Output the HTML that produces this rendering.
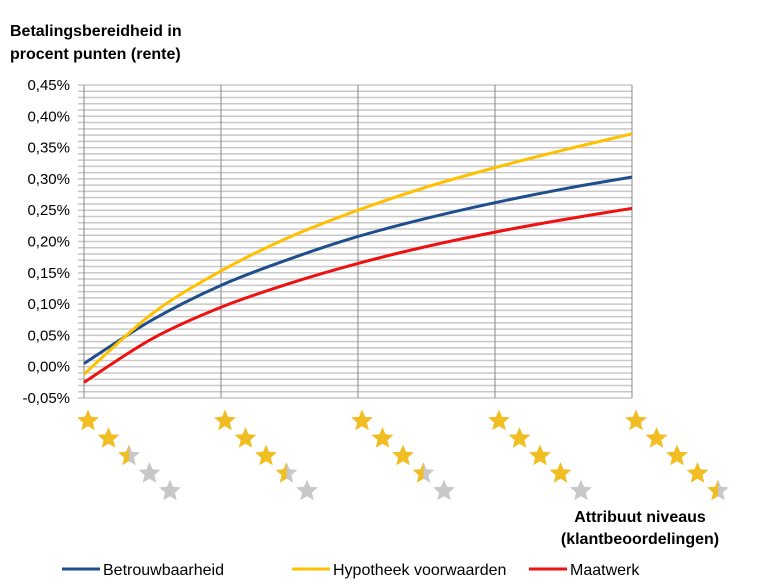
<!DOCTYPE html>
<html><head><meta charset="utf-8"><style>
body{margin:0;background:#fff;font-family:"Liberation Sans",sans-serif;}
</style></head><body>
<svg id="c" width="773" height="582" xmlns="http://www.w3.org/2000/svg">
<defs>
<linearGradient id="half" x1="0" y1="0" x2="1" y2="0"><stop offset="0.5" stop-color="#f0bd22"/><stop offset="0.5" stop-color="#c8c8c8"/></linearGradient>
</defs>
<text x="10" y="36" font-size="16" font-weight="bold">Betalingsbereidheid  in</text>
<text x="10" y="59" font-size="16" font-weight="bold">procent punten (rente)</text>
<g id="grid"></g><g id="yl"></g><g id="stars"></g><g id="lines"></g>
<text x="640" y="522" font-size="16" font-weight="bold" text-anchor="middle">Attribuut niveaus</text>
<text x="640" y="544" font-size="16" font-weight="bold" text-anchor="middle">(klantbeoordelingen)</text>
<g id="legend"></g>
</svg>
<script>
const xs=[1,1.5,2,2.5,3,3.5,4,4.5,5];
const seriesNames=["Betrouwbaarheid","Hypotheek voorwaarden","Maatwerk"];
const blue=[0.005,0.075,0.13,0.172,0.208,0.237,0.262,0.284,0.303];
const yellow=[-0.012,0.085,0.153,0.207,0.25,0.287,0.318,0.346,0.372];
const red=[-0.025,0.045,0.095,0.133,0.165,0.192,0.215,0.235,0.253];
const yTicks=[-0.05,0,0.05,0.1,0.15,0.2,0.25,0.3,0.35,0.4,0.45];
const starLevels=[2.5,3.5,3.5,4,4.5];
const NS="http://www.w3.org/2000/svg";
const X=v=>84+(v-1)*137, Y=v=>398-(v+0.05)*626;
function mk(t,a,p){const e=document.createElementNS(NS,t);for(const k in a)e.setAttribute(k,a[k]);p.appendChild(e);return e;}
const g=document.getElementById('grid');
for(let v=-0.05;v<=0.4501;v+=0.01){const l=mk('line',{x1:78,x2:632,y1:Y(v),y2:Y(v),stroke:'#c8c8c8','stroke-width':1.5},g);

}
for(let i=1;i<=5;i++){const l=mk('line',{x1:X(i),x2:X(i),y1:Y(0.45),y2:Y(-0.05),stroke:'#888','stroke-width':1},g);

}
const yl=document.getElementById('yl');
yTicks.forEach(v=>{const t=mk('text',{x:70,y:Y(v)+5,'font-size':15,'text-anchor':'end'},yl);t.textContent=v.toFixed(2).replace('.',',')+'%';

});
function path(d){let p=d.map((v,i)=>[X(xs[i]),Y(v)]);let s='M'+p[0];for(let i=0;i<p.length-1;i++){const p0=p[Math.max(0,i-1)],p1=p[i],p2=p[i+1],p3=p[Math.min(p.length-1,i+2)];
s+=' C'+(p1[0]+(p2[0]-p0[0])/6)+','+(p1[1]+(p2[1]-p0[1])/6)+' '+(p2[0]-(p3[0]-p1[0])/6)+','+(p2[1]-(p3[1]-p1[1])/6)+' '+p2;}return s;}
const L=document.getElementById('lines');
const cols=['#1f4e8c','#ffc000','#ee1111'];
[blue,yellow,red].forEach((d,i)=>{const e=mk('path',{d:path(d),fill:'none',stroke:cols[i],'stroke-width':3},L);

});
const S=document.getElementById('stars');
function star(cx,cy,r,fill){let pts=[];for(let k=0;k<10;k++){const a=-Math.PI/2+k*Math.PI/5,rr=k%2?r*0.45:r;pts.push((cx+rr*Math.cos(a)).toFixed(1)+','+(cy+rr*Math.sin(a)).toFixed(1));}
return mk('polygon',{points:pts.join(' '),fill:fill},S);}
starLevels.forEach((lv,gi)=>{for(let k=0;k<5;k++){const f=k+1<=lv?'#f0bd22':(k<lv?'url(#half)':'#c8c8c8');
const e=star(X(gi+1)+4+k*20.5,421+k*17.5,11.5,f);

}});
const Lg=document.getElementById('legend');
const lx=[62,292,529];
seriesNames.forEach((n,i)=>{const l=mk('line',{x1:lx[i],x2:lx[i]+38,y1:569,y2:569,stroke:cols[i],'stroke-width':3},Lg);


const t=mk('text',{x:lx[i]+41,y:575,'font-size':16},Lg);t.textContent=n;

});
</script>
</body></html>
